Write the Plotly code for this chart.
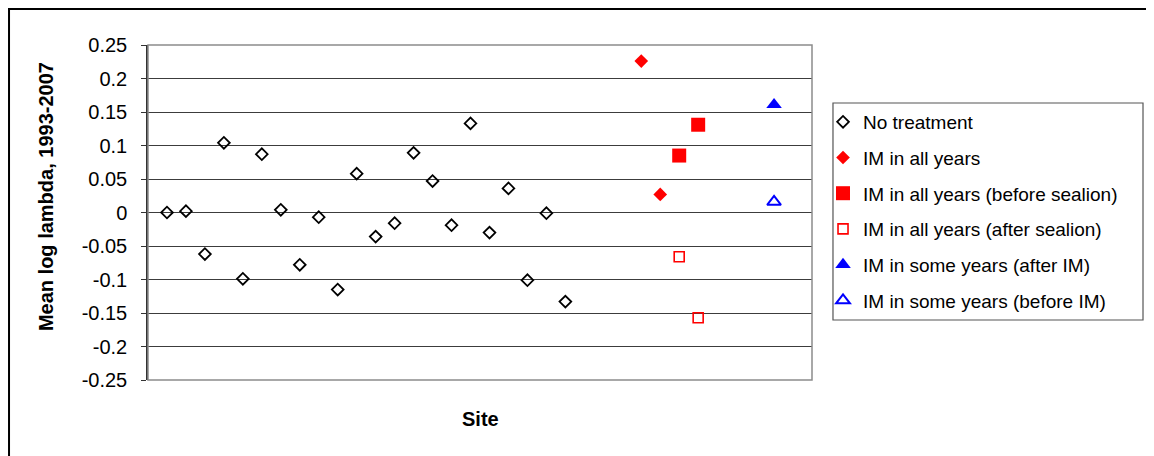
import plotly.graph_objects as go

# ---------------- data ----------------
none_sites = [1, 2, 3, 4, 5, 6, 7, 8, 9, 10, 11, 12, 13, 14, 15, 16, 17, 18, 19, 20, 21, 22]
none_vals = [0.000, 0.002, -0.062, 0.104, -0.099, 0.087, 0.004, -0.078, -0.007, -0.115, 0.058,
             -0.036, -0.016, 0.089, 0.047, -0.019, 0.133, -0.030, 0.036, -0.101, -0.001, -0.133]

im_all_sites = [26, 27]
im_all_vals = [0.226, 0.027]

im_before_sites = [28, 29]
im_before_vals = [0.085, 0.131]

im_after_sites = [28, 29]
im_after_vals = [-0.066, -0.157]

some_after_sites = [33]
some_after_vals = [0.161]

some_before_sites = [33]
some_before_vals = [0.016]

tick_vals = [0.25, 0.2, 0.15, 0.1, 0.05, 0, -0.05, -0.1, -0.15, -0.2, -0.25]
tick_text = ["0.25", "0.2", "0.15", "0.1", "0.05", "0", "-0.05", "-0.1", "-0.15", "-0.2", "-0.25"]

FONT = "Liberation Sans, Arial, sans-serif"

fig = go.Figure()
fig.add_trace(go.Scatter(x=none_sites, y=none_vals, mode="markers", name="No treatment",
                         legendgroup="a",
                         marker=dict(symbol="diamond-open", size=9, color="black",
                                     line=dict(width=1.8, color="black"))))
fig.add_trace(go.Scatter(x=im_all_sites, y=im_all_vals, mode="markers", name="IM in all years",
                         legendgroup="b",
                         marker=dict(symbol="diamond", size=10.5, color="#ff0000")))
fig.add_trace(go.Scatter(x=im_before_sites, y=im_before_vals, mode="markers",
                         name="IM in all years (before sealion)", legendgroup="c",
                         marker=dict(symbol="square", size=14, color="#ff0000")))
fig.add_trace(go.Scatter(x=im_after_sites, y=im_after_vals, mode="markers",
                         name="IM in all years (after sealion)", legendgroup="d",
                         marker=dict(symbol="square-open", size=10, color="#ff0000",
                                     line=dict(width=1.6, color="#ff0000"))))
fig.add_trace(go.Scatter(x=some_after_sites, y=some_after_vals, mode="markers",
                         name="IM in some years (after IM)", legendgroup="e",
                         marker=dict(symbol="triangle-up", size=13.5, color="#0000ff")))
fig.add_trace(go.Scatter(x=some_before_sites, y=some_before_vals, mode="markers",
                         name="IM in some years (before IM)", legendgroup="f",
                         marker=dict(symbol="triangle-up-open", size=12, color="#0000ff",
                                     line=dict(width=2, color="#0000ff"))))

fig.update_layout(
    width=1146, height=448,
    margin=dict(l=140, r=342, t=37, b=76),
    paper_bgcolor="white", plot_bgcolor="white",
    font=dict(family=FONT, size=19, color="black"),
    showlegend=True,
    legend=dict(x=1.0166, y=0.827, xanchor="left", yanchor="top",
                bgcolor="rgba(0,0,0,0)", borderwidth=0,
                font=dict(family=FONT, size=19, color="black"),
                tracegroupgap=8),
    xaxis=dict(range=[0, 35], showgrid=False, zeroline=False, showticklabels=False,
               ticks="", showline=False),
    yaxis=dict(range=[-0.25, 0.25], tickvals=tick_vals, ticktext=tick_text,
               showgrid=True, gridcolor="#3c3c3c", gridwidth=1, zeroline=False,
               ticks="outside", ticklen=5, tickcolor="#333333", tickwidth=1,
               showline=True, linecolor="#333333", linewidth=1.5,
               ticklabelstandoff=10,
               tickfont=dict(family=FONT, size=20, color="black")),
    shapes=[
        # plot-area frame (grey)
        dict(type="rect", xref="paper", yref="paper", x0=0, x1=1, y0=0, y1=1,
             line=dict(color="#8c8c8c", width=1.5), layer="above"),
        # legend frame
        dict(type="rect", xref="paper", yref="paper",
             x0=1.0316, x1=1.4985, y0=0.1791, y1=0.8269,
             line=dict(color="#555555", width=1.2), layer="above"),
        # outer chart frame
        dict(type="rect", xref="paper", yref="paper",
             x0=-0.2093, x1=1.53, y0=-0.25, y1=1.1075,
             line=dict(color="black", width=2), layer="above"),
    ],
    annotations=[
        dict(text="<b>Mean log lambda, 1993-2007</b>", xref="paper", yref="paper",
             x=-0.1536, y=0.546, xanchor="center", yanchor="middle", textangle=-90,
             showarrow=False, font=dict(family=FONT, size=20, color="black")),
        dict(text="<b>Site</b>", xref="paper", yref="paper",
             x=0.5, y=-0.1164, xanchor="center", yanchor="middle",
             showarrow=False, font=dict(family=FONT, size=20, color="black")),
    ],
)

fig.write_html("out.html")
